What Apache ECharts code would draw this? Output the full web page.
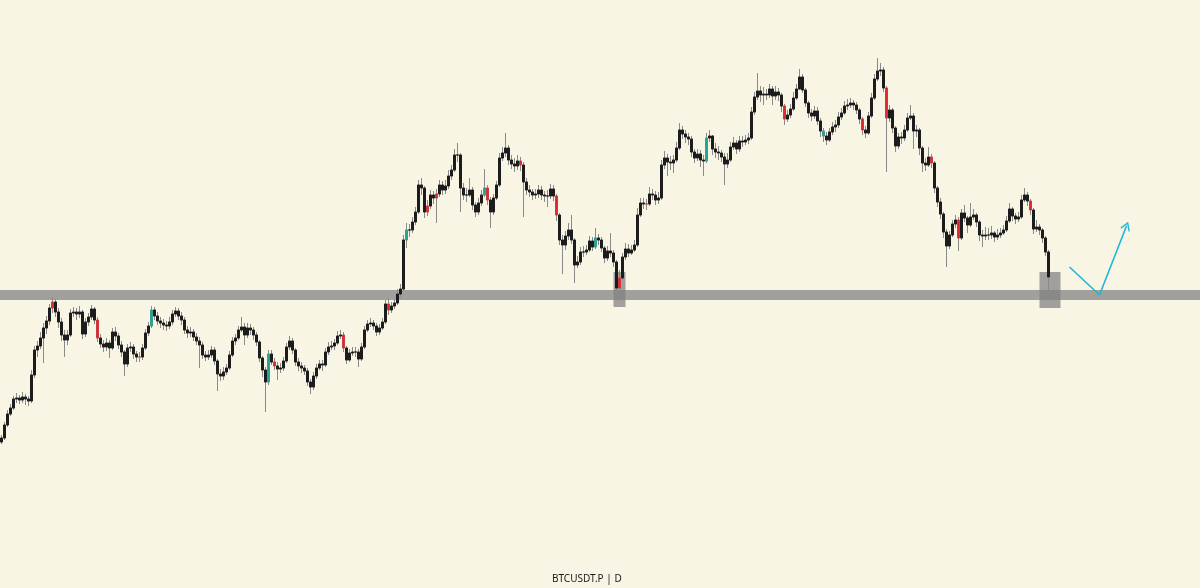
<!DOCTYPE html>
<html>
<head>
<meta charset="utf-8">
<script src="https://cdn.jsdelivr.net/npm/echarts@6/dist/echarts.min.js"></script>
<style>
html,body{margin:0;padding:0;background:#f8f5e4;}
#chart{width:1200px;height:588px;}
</style>
</head>
<body>
<div id="chart"></div>
<script>
// BTCUSDT.P (price in thousand USDT), one candle per 2 days
const firstOpen = 44.6;
const closes = [
45.4,48.0,50.2,51.4,53.2,53.4,53.0,53.6,53.2,52.8,
58.0,63.0,63.8,65.4,67.4,68.8,71.4,72.6,70.6,68.6,
66.0,65.0,66.0,70.4,70.6,70.2,70.6,66.2,68.6,69.6,
71.2,69.0,65.4,64.2,63.6,64.4,63.4,66.6,65.8,64.0,
62.6,60.2,63.4,63.6,62.2,61.6,61.6,63.4,66.4,67.8,
71.0,69.8,68.8,68.4,68.0,67.8,68.6,70.2,70.8,69.8,
69.0,67.0,66.4,66.6,65.6,64.8,64.0,62.0,61.6,62.0,
63.0,60.8,58.2,57.8,58.6,59.4,62.0,64.8,65.4,67.0,
67.6,66.0,67.4,67.0,66.0,64.6,61.4,59.0,56.6,62.2,
60.6,59.8,59.2,59.4,60.8,63.6,64.8,63.0,60.6,59.8,
59.4,58.8,56.6,55.6,57.8,59.4,60.2,60.0,62.6,63.6,
63.8,64.4,65.8,66.0,63.4,61.0,62.4,62.6,62.6,61.2,
63.6,67.0,68.2,68.4,67.8,66.6,67.4,68.6,72.2,71.0,
71.8,72.4,74.2,75.2,85.0,87.0,87.0,88.6,90.6,96.0,
95.4,90.6,91.8,94.0,93.4,94.2,96.0,95.0,95.8,97.8,
99.0,102.0,102.0,95.4,94.0,94.0,95.0,92.0,90.6,92.4,
94.0,95.4,93.0,90.6,93.4,96.0,101.4,102.4,103.4,101.0,
100.2,99.8,100.8,100.0,96.6,95.0,94.6,94.0,94.2,95.0,
94.0,93.8,93.8,95.2,93.8,90.0,85.0,84.0,85.8,87.0,
85.0,80.0,80.6,82.6,82.6,83.0,84.8,83.6,85.4,85.0,
83.4,81.4,82.8,82.4,80.6,75.4,77.4,81.6,83.2,82.4,
83.0,84.0,90.0,92.4,92.2,92.2,94.2,94.0,93.0,93.4,
100.0,101.4,100.6,100.4,101.0,103.4,107.0,106.2,105.6,105.2,
102.6,101.4,102.2,101.0,100.8,105.4,105.8,103.2,102.6,102.4,
101.6,100.2,101.0,103.6,104.4,103.2,104.8,104.6,105.0,105.4,
110.6,113.6,114.8,114.0,114.2,114.0,115.2,113.8,114.6,114.0,
111.8,109.2,110.0,111.2,113.4,115.2,117.6,115.0,112.4,110.4,
109.8,110.8,108.8,106.8,105.8,105.0,106.6,107.6,108.0,109.6,
110.4,111.8,112.0,112.4,112.0,111.0,109.2,107.0,106.4,109.8,
113.4,117.2,118.8,119.0,115.4,109.4,111.0,107.4,103.8,105.6,
105.4,107.0,109.4,109.8,106.8,107.0,103.4,100.4,100.0,101.6,
100.4,95.4,92.6,90.2,86.6,83.8,86.0,88.2,89.0,85.4,
90.4,89.4,88.0,89.6,90.0,88.6,86.0,85.8,86.0,86.0,
86.4,85.6,86.0,86.4,87.0,88.8,91.2,89.8,89.2,89.6,
93.0,94.0,92.8,91.0,87.2,87.6,87.0,85.4,82.6,77.6
];
const highs = [
46.0,48.6,51.0,52.2,53.8,54.4,54.0,54.6,54.2,53.8,
59.0,63.8,64.8,66.6,68.4,69.8,72.2,73.6,73.2,71.4,
69.4,67.0,67.0,71.2,71.6,71.4,71.8,71.0,69.4,70.4,
72.0,71.6,69.6,66.2,65.0,65.4,65.0,67.4,67.6,66.4,
64.8,63.0,64.2,64.6,64.2,62.8,62.6,64.2,67.2,68.6,
71.8,71.6,70.6,69.6,69.2,68.8,69.6,71.0,71.6,71.4,
70.6,69.6,67.8,67.6,67.2,66.4,65.6,64.6,62.8,63.0,
63.8,63.6,61.2,59.2,59.6,60.2,62.8,65.6,66.2,67.8,
69.6,68.4,68.4,68.2,67.6,66.6,65.0,61.8,59.6,63.0,
63.0,61.4,60.6,60.4,61.6,64.4,65.8,65.4,63.4,61.4,
60.6,60.0,59.4,57.2,58.6,60.2,61.0,61.0,63.4,64.6,
64.8,65.2,66.8,67.0,66.6,63.8,63.2,63.6,63.6,63.2,
64.4,67.8,69.0,69.4,69.0,68.4,68.2,69.4,73.0,73.4,
72.6,73.2,75.2,76.2,86.0,88.4,88.2,89.6,91.6,97.0,
97.4,95.8,93.0,95.0,94.8,95.2,97.0,96.8,97.0,99.0,
100.0,103.2,104.4,102.4,96.4,95.4,97.4,95.6,92.6,93.4,
95.0,99.2,96.0,93.6,94.2,96.8,102.4,103.6,106.4,104.0,
102.0,101.4,102.0,101.6,100.6,97.4,96.0,95.2,95.2,96.0,
95.8,94.8,95.0,96.2,96.0,94.2,90.4,86.0,86.8,88.4,
90.0,85.4,81.8,83.6,83.8,84.0,85.8,85.6,87.4,86.2,
85.6,83.8,83.8,86.4,83.0,81.0,79.0,82.4,84.4,84.2,
84.0,85.0,91.4,93.4,93.4,93.2,95.6,95.2,94.8,94.6,
101.0,102.8,102.2,101.8,102.0,104.6,108.4,107.8,107.0,106.4,
105.8,103.2,103.2,103.0,102.0,106.4,107.0,106.0,104.4,103.8,
103.0,102.4,102.4,104.6,105.6,105.0,105.8,105.8,106.0,106.4,
111.6,114.6,118.4,115.8,115.6,115.2,116.2,115.8,115.8,115.4,
114.4,112.2,111.0,112.2,114.6,116.2,119.2,118.2,115.4,112.8,
111.2,111.8,111.6,109.4,107.4,106.6,107.4,108.6,109.0,110.6,
111.4,112.8,113.2,113.4,113.0,112.6,111.4,109.6,107.8,110.6,
114.4,118.2,121.4,120.4,119.6,115.8,112.0,111.4,107.8,106.4,
106.6,108.0,110.4,112.0,110.4,108.0,107.4,103.8,101.4,103.6,
102.2,100.8,95.8,93.4,90.6,87.2,86.8,89.0,90.0,89.6,
91.2,92.0,89.8,92.4,91.2,90.4,89.0,87.0,87.6,87.4,
87.8,86.8,87.2,87.4,88.0,89.8,92.4,91.6,90.4,90.6,
94.0,95.4,94.6,93.2,91.4,89.0,88.2,87.4,85.8,83.0
];
const lows = [
44.2,45.0,47.6,49.8,51.0,52.4,52.2,52.4,52.0,51.8,
52.4,57.4,61.6,63.2,60.4,66.2,68.0,70.4,69.6,67.4,
64.8,61.6,64.0,65.6,69.6,69.0,69.4,65.2,65.6,67.8,
69.0,68.2,64.6,63.4,62.6,62.8,61.4,63.0,64.8,63.2,
61.6,57.8,59.6,62.6,61.2,60.6,60.6,61.0,63.0,65.8,
67.4,69.0,68.0,67.4,67.0,66.8,67.2,68.0,69.6,69.0,
68.0,66.2,65.4,65.6,64.8,64.0,59.4,61.2,60.8,61.0,
61.4,60.0,54.8,56.8,57.0,58.0,59.0,61.6,64.0,65.0,
66.6,64.0,65.4,66.0,65.0,63.8,60.6,57.6,50.6,56.0,
60.0,59.0,57.0,58.4,58.8,60.4,63.0,62.2,59.8,58.8,
58.4,58.0,55.8,54.2,55.0,57.2,59.0,58.8,59.6,62.0,
63.0,63.0,64.0,65.2,62.6,60.2,60.6,61.8,61.6,59.6,
60.8,63.2,66.6,67.6,67.0,65.8,66.0,67.0,68.2,70.0,
70.4,71.2,72.0,73.6,74.8,83.4,85.6,86.4,88.0,90.2,
94.0,89.4,89.8,91.2,92.2,88.4,93.6,94.0,94.2,95.2,
97.0,98.6,100.6,90.6,93.0,92.6,93.6,91.0,89.6,90.0,
91.8,93.6,92.0,87.4,90.0,93.0,95.6,100.8,101.6,100.0,
99.2,98.6,99.0,98.8,89.6,94.0,93.6,93.0,93.2,93.4,
93.0,92.6,91.6,93.2,92.8,88.8,84.0,78.2,83.0,85.0,
84.2,76.4,79.4,80.0,81.6,82.0,82.6,82.8,83.2,84.0,
82.6,80.4,80.8,81.6,79.6,73.8,74.6,77.0,81.0,81.6,
82.0,82.6,83.6,89.6,91.2,91.0,91.8,93.0,92.0,92.2,
93.0,99.2,97.8,99.0,98.4,100.6,103.0,105.2,104.4,104.0,
101.6,100.4,100.8,99.6,97.8,100.4,104.6,102.0,101.4,101.0,
100.6,96.0,99.4,100.6,103.0,102.2,102.6,103.6,104.0,104.2,
105.0,110.0,113.0,112.6,112.0,113.0,113.4,112.0,113.0,112.8,
110.6,108.0,108.6,109.4,110.8,113.0,115.0,114.4,111.6,109.4,
108.8,109.2,108.0,105.6,104.6,104.0,104.6,106.0,106.6,107.4,
109.0,110.0,111.0,111.4,111.0,110.2,108.2,106.0,105.4,106.0,
109.4,113.0,116.8,117.8,114.6,98.6,108.6,106.4,102.6,103.2,
104.2,104.8,106.6,109.0,103.2,105.6,102.0,98.6,98.8,99.6,
99.4,94.4,91.6,89.2,85.4,79.6,83.2,85.6,87.4,82.8,
85.0,88.6,86.4,87.6,89.0,87.6,84.8,83.6,85.0,85.0,
85.2,84.6,85.0,85.4,86.0,86.6,88.4,88.8,88.2,88.6,
89.2,92.6,91.8,90.0,86.2,86.6,86.0,84.4,81.8,74.6
];
// candles painted red / teal in the picture (indices)
const redCandles = [17,32,46,91,114,129,142,145,162,173,185,206,215,261,287,295,310,319,343];
const tealCandles = [50,89,135,161,198,235,274];

// annotations (price level band, highlight boxes, projected path)
const supportBand = [73.0, 75.0];
const boxes = [
  {from: 203.5, to: 207.5, low: 71.6, high: 78.6},
  {from: 346.4, to: 352.8, low: 71.4, high: 78.6}
];
const projectionX = [356, 366, 375];
const projectionY = [79.6, 74.0, 87.8];

const totalSlots = 400;
const categories = [];
{
  const d0 = new Date(Date.UTC(2024, 1, 1));
  for (let i = 0; i < totalSlots; i++) {
    const d = new Date(d0.getTime() + i * 2 * 86400000);
    categories.push(d.toISOString().slice(0, 10));
  }
}

const wickData = [];
const bodyData = [];
for (let i = 0; i < closes.length; i++) {
  const o = i === 0 ? firstOpen : closes[i - 1];
  const c = closes[i];
  wickData.push([o, c, lows[i], highs[i]]);
  const item = {value: [o, c, Math.min(o, c), Math.max(o, c)]};
  if (redCandles.includes(i)) item.itemStyle = {color: '#e0262e', color0: '#e0262e', borderColor: '#e0262e', borderColor0: '#e0262e', borderWidth: 0.6};
  if (tealCandles.includes(i)) item.itemStyle = {color: '#22a596', color0: '#22a596', borderColor: '#22a596', borderColor0: '#22a596', borderWidth: 0.6};
  bodyData.push(item);
}

const chart = echarts.init(document.getElementById('chart'), null, {renderer: 'canvas'});
const areaStyle = {color: 'rgba(128,128,128,0.72)'};
const chevron = 'path://M5,0 L10,8.2 L8.9,9 L5,2.6 L1.1,9 L0,8.2 Z';

chart.setOption({
  backgroundColor: '#f8f5e4',
  animation: false,
  title: {
    text: 'BTCUSDT.P | D',
    left: 547, top: 569,
    textStyle: {fontSize: 10, fontWeight: 'normal', color: '#1a1a1a', fontFamily: 'Noto Sans'}
  },
  grid: {left: 0, right: 0, top: 0, bottom: 0},
  xAxis: {type: 'category', data: categories, boundaryGap: true, show: false},
  yAxis: {type: 'value', min: 15.4, max: 133, show: false, splitLine: {show: false}},
  series: [
    {
      name: 'wicks', type: 'candlestick', data: wickData, barWidth: 3,
      itemStyle: {color: '#9a9a98', color0: '#9a9a98', borderColor: '#8a8a88', borderColor0: '#8a8a88', borderWidth: 1}
    },
    {
      name: 'bodies', type: 'candlestick', data: bodyData, barWidth: 1.6,
      itemStyle: {color: '#1c1c1c', color0: '#1c1c1c', borderColor: '#1c1c1c', borderColor0: '#1c1c1c', borderWidth: 1}
    },
    {
      name: 'projection', type: 'line', z: 5,
      data: [[projectionX[0], projectionY[0]], [projectionX[1], projectionY[1]]],
      symbol: 'none', lineStyle: {color: '#1fb6d9', width: 1.6},
      markArea: {
        silent: true,
        itemStyle: areaStyle,
        data: [
          [{yAxis: supportBand[0]}, {yAxis: supportBand[1]}],
          [{coord: [boxes[0].from, boxes[0].low]}, {coord: [boxes[0].to, boxes[0].high]}],
          [{coord: [boxes[1].from, boxes[1].low]}, {coord: [boxes[1].to, boxes[1].high]}]
        ]
      },
      markLine: {
        silent: true,
        symbol: ['none', chevron],
        symbolSize: [10, 9],
        lineStyle: {color: '#1fb6d9', width: 1.6, type: 'solid'},
        label: {show: false},
        data: [[{coord: [projectionX[1], projectionY[1]]}, {coord: [projectionX[2], projectionY[2]]}]]
      }
    }
  ]
});
</script>
</body>
</html>
